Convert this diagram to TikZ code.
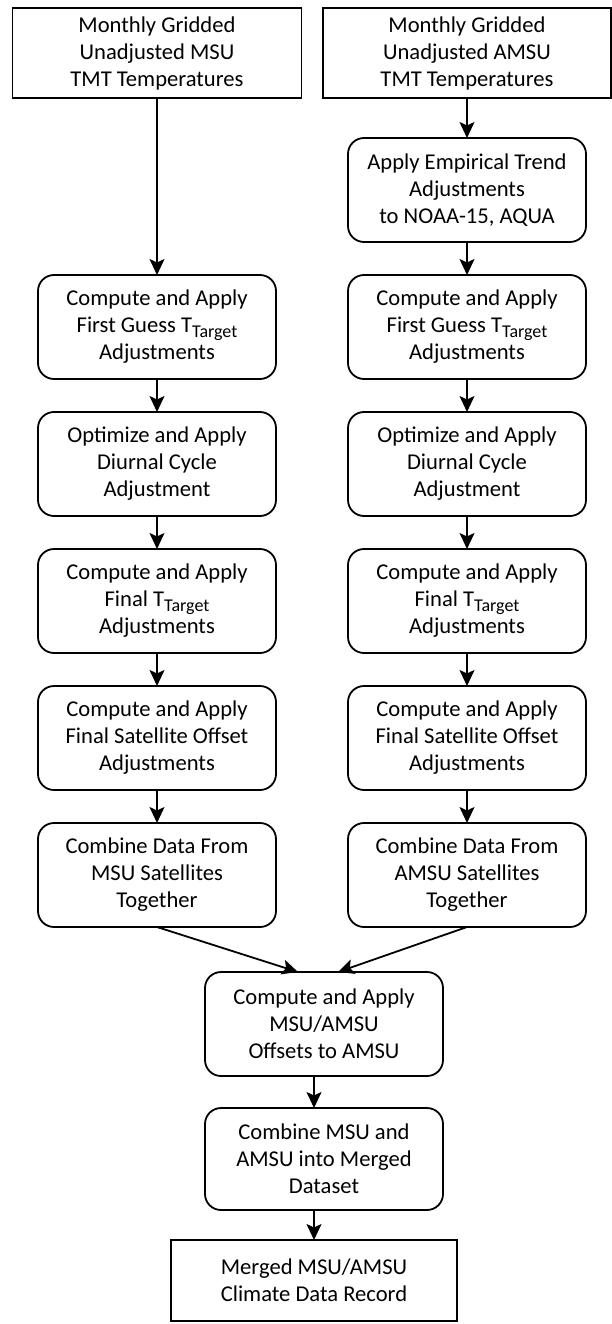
\documentclass[tikz,border=0pt]{standalone}
\usepackage{fontspec}
\setmainfont{Carlito}
\usetikzlibrary{positioning,calc,arrows.meta}

\begin{document}
\begin{tikzpicture}[x=1pt,y=1pt]
      \tikzset{>={Stealth[length=16,width=15,inset=3.5]}} % arrow head
      \tikzset{
        databox/.style={draw,line width=1.8,minimum width=289,minimum height=90,outer sep=0,
          align=center,inner sep=0,font=\fontsize{22.6}{27}\selectfont},
        stepbox/.style={draw,line width=1.8,rounded corners=16,minimum width=238,outer sep=0,
          minimum height=104,align=center,inner sep=0,font=\fontsize{22.6}{27}\selectfont},
        flow/.style={->,line width=1.8},
        node distance=33
      }
      \def\Tt{T\raisebox{-5pt}{\fontsize{18}{18}\selectfont Target}}

      \useasboundingbox (0,0) rectangle (612,-1324);

      % INPUT DATA
      \node[databox] (msuin) at (157,-53) {Monthly Gridded\\Unadjusted MSU\\TMT Temperatures};
      \node[databox,minimum width=288] (amsuin) at (467,-53) {Monthly Gridded\\Unadjusted AMSU\\TMT Temperatures};

      % MSU COLUMN
      \node[stepbox] (lguess) at (157,-327) {Compute and Apply\\First Guess \Tt\\Adjustments};
      \node[stepbox,below=of lguess] (ldiurnal) {Optimize and Apply\\Diurnal Cycle\\Adjustment};
      \node[stepbox,below=of ldiurnal] (lfinal) {Compute and Apply\\Final \Tt\\Adjustments};
      \node[stepbox,below=of lfinal] (loffset) {Compute and Apply\\Final Satellite Offset\\Adjustments};
      \node[stepbox,below=of loffset] (lcombine) {Combine Data From\\MSU Satellites\\Together};

      % AMSU COLUMN
      \node[stepbox] (trend) at (467,-190) {Apply Empirical Trend\\Adjustments\\to NOAA-15, AQUA};
      \node[stepbox,below=of trend] (rguess) {Compute and Apply\\First Guess \Tt\\Adjustments};
      \node[stepbox,below=of rguess] (rdiurnal) {Optimize and Apply\\Diurnal Cycle\\Adjustment};
      \node[stepbox,below=of rdiurnal] (rfinal) {Compute and Apply\\Final \Tt\\Adjustments};
      \node[stepbox,below=of rfinal] (roffset) {Compute and Apply\\Final Satellite Offset\\Adjustments};
      \node[stepbox,below=of roffset] (rcombine) {Combine Data From\\AMSU Satellites\\Together};

      % MERGING
      \node[stepbox] (mix) at (324,-1024) {Compute and Apply\\MSU/AMSU\\Offsets to AMSU};
      \node[stepbox,below=32 of mix,minimum height=102] (merge) {Combine MSU and\\AMSU into Merged\\Dataset};
      \node[databox,minimum width=286,minimum height=81] (record) at (314,-1280.5) {Merged MSU/AMSU\\Climate Data Record};

      % ARROWS
      \draw[flow] (msuin) -- (lguess);
      \foreach \a/\b in {amsuin/trend,trend/rguess,rguess/rdiurnal,rdiurnal/rfinal,rfinal/roffset,
        roffset/rcombine,lguess/ldiurnal,ldiurnal/lfinal,lfinal/loffset,loffset/lcombine}
        \draw[flow] (\a) -- (\b);
      \draw[flow] (lcombine.south) -- ([xshift=-26]mix.north);
      \draw[flow] (rcombine.south) -- ([xshift=14]mix.north);
      \draw[flow] (mix.south -| record.north) -- (merge.north -| record.north);
      \draw[flow] (merge.south -| record.north) -- (record.north);

\end{tikzpicture}
\end{document}
